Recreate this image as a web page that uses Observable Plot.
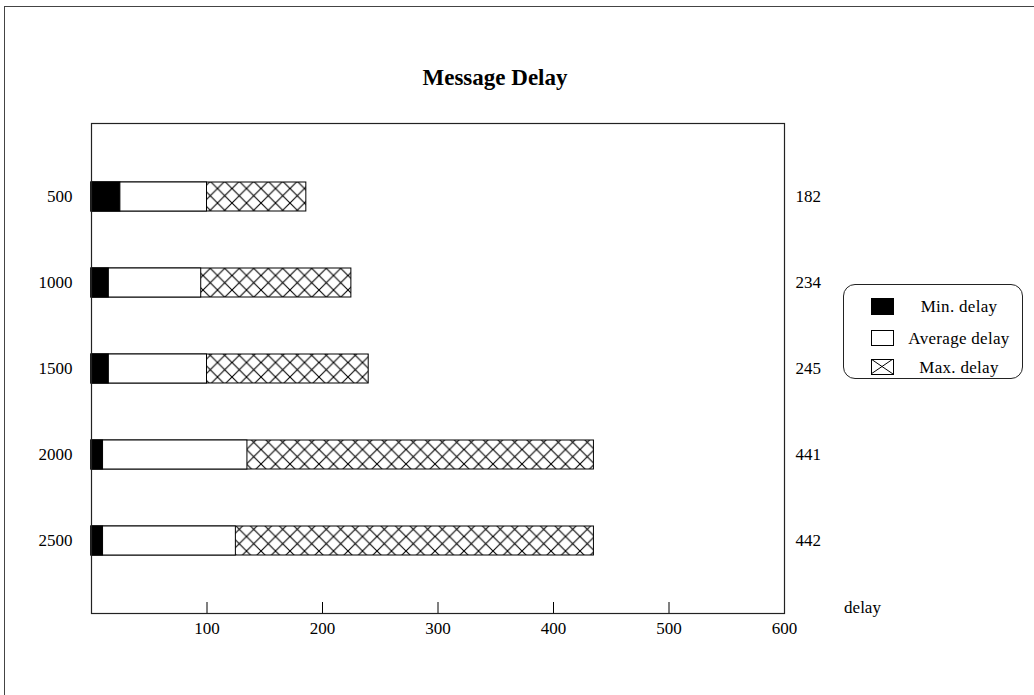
<!DOCTYPE html>
<html>
<head>
<meta charset="utf-8">
<script src="https://cdn.jsdelivr.net/npm/d3@7"></script>
<script src="https://cdn.jsdelivr.net/npm/@observablehq/plot@0.6"></script>
<style>
  html, body { margin: 0; padding: 0; background: white; }
  body { font-family: "Liberation Serif", "Times New Roman", serif; }
  #wrap { position: relative; width: 1034px; height: 695px; overflow: hidden; background: white; }
  #border { position: absolute; left: 4px; top: 6px; width: 1100px; height: 800px; border: 1px solid #444; }
  #title { position: absolute; left: 395px; width: 200px; top: 65px; text-align: center; font-weight: bold; font-size: 23px; color: #000; }
  #chart { position: absolute; left: 0; top: 0; }
  #legend { position: absolute; left: 843px; top: 284px; width: 180px; height: 95px; border: 1px solid #222; border-radius: 12px; box-sizing: border-box; }
  .lrow { position: absolute; left: 0; width: 180px; height: 20px; font-size: 17px; }
  .lrow svg { position: absolute; left: 27px; top: 1px; }
  .lrow span { position: absolute; left: 60px; width: 110px; text-align: center; line-height: 20px; letter-spacing: 0.3px; }
</style>
</head>
<body>
<div id="wrap">
  <div id="chart"></div>
  <div id="title">Message Delay</div>
  <div id="legend"></div>
  <div id="border"></div>
</div>
<script>
// ---- data ----
const sizes = ["500", "1000", "1500", "2000", "2500"];
const minDelay = [25, 15, 15, 10, 10];
const avgDelay = [100, 95, 100, 135, 125];
const maxDelay = [186, 225, 240, 435, 435];
const totals = ["182", "234", "245", "441", "442"];
const xTicks = [100, 200, 300, 400, 500, 600];
const legendLabels = ["Min. delay", "Average delay", "Max. delay"];
const xLabel = "delay";
const chartTitle = "Message Delay";

const rows = sizes.map((s, i) => ({size: s, min: minDelay[i], avg: avgDelay[i], max: maxDelay[i], total: totals[i]}));

const font = '"Liberation Serif", "Times New Roman", serif';

const plot = Plot.plot({
  width: 1034,
  height: 695,
  marginLeft: 91,
  marginRight: 250,
  marginTop: 123,
  marginBottom: 82,
  style: {background: "transparent", fontFamily: font, fontSize: "17px", color: "black"},
  x: {domain: [0, 600], label: null},
  y: {type: "band", domain: sizes, paddingInner: 0.667, paddingOuter: 0.65, label: null},
  marks: [
    Plot.barX(rows, {x: "max", y: "size", fill: "url(#hatch)", stroke: "black", strokeWidth: 1}),
    Plot.barX(rows, {x: "avg", y: "size", fill: "white", stroke: "black", strokeWidth: 1}),
    Plot.barX(rows, {x: "min", y: "size", fill: "black", stroke: "black", strokeWidth: 1}),
    Plot.tickX(xTicks, {x: d => d, insetTop: 479, stroke: "black", strokeWidth: 1}),
    Plot.frame({stroke: "#222", strokeWidth: 1.2}),
    Plot.axisY({anchor: "left", tickSize: 0, tickPadding: 19, fontSize: 17}),
    Plot.axisY({anchor: "right", tickSize: 0, tickPadding: 11, fontSize: 17,
      tickFormat: d => totals[sizes.indexOf(d)]}),
    Plot.axisX(xTicks, {anchor: "bottom", tickSize: 0, tickPadding: 8, fontSize: 17}),
    Plot.text([xLabel], {text: d => d, frameAnchor: "bottom-right", dx: 78, dy: -1, fontSize: 17, textAnchor: "middle"})
  ]
});

d3.select(plot).insert("defs", ":first-child").html(
  '<pattern id="hatch" patternUnits="userSpaceOnUse" width="14.5" height="14.5">' +
  '<rect width="14.5" height="14.5" fill="white"/>' +
  '<path d="M0,0L14.5,14.5M14.5,0L0,14.5" stroke="black" stroke-width="1.1"/>' +
  '</pattern>'
);
document.getElementById("chart").appendChild(plot);
document.getElementById("title").textContent = chartTitle;

// legend
const legend = document.getElementById("legend");
const swatches = [
  '<svg width="23" height="17"><rect x="0.5" y="0.5" width="22" height="16" fill="black" stroke="black"/></svg>',
  '<svg width="23" height="17"><rect x="0.5" y="0.5" width="22" height="15" fill="white" stroke="black"/></svg>',
  '<svg width="23" height="17"><defs><pattern id="hatchL" patternUnits="userSpaceOnUse" width="22" height="15"><path d="M0,0L22,15M22,0L0,15" stroke="black" stroke-width="1"/></pattern></defs><rect x="0.5" y="0.5" width="22" height="15" fill="url(#hatchL)" stroke="black"/></svg>'
];
const tops = [12, 44, 73];
legendLabels.forEach((lab, i) => {
  const r = document.createElement("div");
  r.className = "lrow";
  r.style.top = tops[i] + "px";
  r.innerHTML = swatches[i] + "<span>" + lab + "</span>";
  legend.appendChild(r);
});
</script>
</body>
</html>
